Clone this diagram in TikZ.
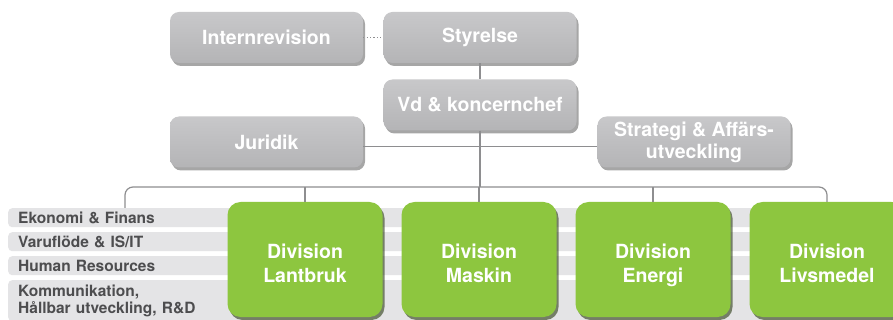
\documentclass[tikz,border=0pt]{standalone}
\usepackage{fontspec}
\setmainfont{TeX Gyre Heros}
\usetikzlibrary{shadows}
\definecolor{gtop}{HTML}{C8C8CA}
\definecolor{gbot}{HTML}{B4B4B6}
\definecolor{divgreen}{HTML}{8DC63F}
\definecolor{barbg}{HTML}{E4E4E6}
\definecolor{bartext}{HTML}{4D4D4F}
\definecolor{linecol}{HTML}{8E8E90}
\begin{document}
\begin{tikzpicture}[x=1pt,y=-1pt,
  graybox/.style={rounded corners=9pt, minimum width=193pt, minimum height=51pt,
    top color=gtop, bottom color=gbot, draw=none, text=white,
    font=\fontsize{19.5}{22}\selectfont\bfseries, align=center, inner sep=0pt,
    drop shadow={shadow xshift=2pt, shadow yshift=-3pt, fill=black, opacity=0.35}},
  divbox/.style={rounded corners=13pt, minimum width=155pt, minimum height=115pt,
    fill=divgreen, draw=none, inner sep=0pt,
    drop shadow={shadow xshift=2pt, shadow yshift=-3pt, fill=black!70!divgreen, opacity=0.6}},
  divtext/.style={text=white, font=\fontsize{19.5}{24}\selectfont\bfseries, align=center,
    inner sep=0pt, text depth=0pt},
  staffbar/.style={anchor=north west, fill=barbg, rounded corners=4pt, text=bartext,
    font=\fontsize{15.5}{17}\selectfont\bfseries, inner xsep=10pt, inner ysep=0pt,
    text width=880pt, align=left},
  conn/.style={draw=linecol, line width=1.2pt}
]
\clip (0,0) rectangle (893,320);
\useasboundingbox (0,0) rectangle (893,320);
\fill[white] (0,0) rectangle (893,320);

% coordinates for bus
\coordinate (busL) at (125,187);
\coordinate (busR) at (827,187);
\coordinate (hl) at (480,146.5);

% staff bars
\node[staffbar, minimum height=19pt] (eko) at (8,208) {Ekonomi \& Finans};
\node[staffbar, minimum height=19pt] (varu) at (8,232) {Varuflöde \& IS/IT};
\node[staffbar, minimum height=19pt] (hr) at (8,256) {Human Resources};
\node[staffbar, minimum height=41pt] (komm) at (8,280) {Kommunikation,\\Hållbar utveckling, R\&D};

% gray boxes
\node[graybox] (intrev) at (266.5,37.5) {Internrevision};
\node[graybox] (sty) at (480,37.5) {Styrelse};
\node[graybox] (vd) at (480,105) {Vd \& koncernchef};
\node[graybox] (jur) at (266.5,142) {Juridik};
\node[graybox] (strat) at (694,142) {Strategi \& Affärs-\\utveckling};

% division boxes
\node[divbox] (lant) at (305,259.5) {};
\node[divbox] (mask) at (479,259.5) {};
\node[divbox] (ener) at (653,259.5) {};
\node[divbox] (livs) at (827,259.5) {};
\node[divtext] (lantT) at ([yshift=-4pt]lant.center) {Division\\Lantbruk};
\node[divtext] (maskT) at ([yshift=-4pt]mask.center) {Division\\Maskin};
\node[divtext] (enerT) at ([yshift=-4pt]ener.center) {Division\\Energi};
\node[divtext] (livsT) at ([yshift=-4pt]livs.center) {Division\\Livsmedel};

% connectors
\draw[linecol, line width=1.1pt, dash pattern=on 1.2pt off 2.2pt] (intrev.east) -- (sty.west);
\draw[conn] (sty.south) -- (vd.north);
\draw[conn] (vd.south) -- (vd.south |- busL);
\draw[conn] (jur.east |- hl) -- (strat.west |- hl);
\draw[conn, rounded corners=8pt] (eko.north -| busL) -- (busL) -- (busR) -- (livs.north);
\draw[conn] (lant.north) -- (lant.north |- busL);
\draw[conn] (mask.north) -- (mask.north |- busL);
\draw[conn] (ener.north) -- (ener.north |- busL);
\end{tikzpicture}
\end{document}
